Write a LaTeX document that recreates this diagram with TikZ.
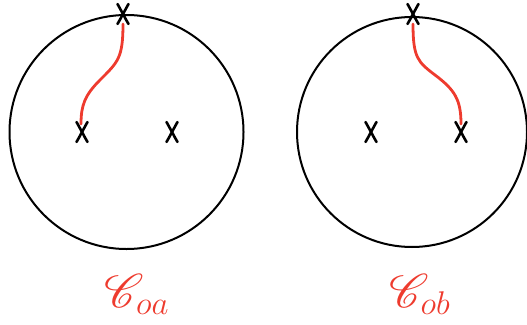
\documentclass[tikz,border=0pt]{standalone}
\usepackage{mathrsfs}
\usepackage{graphicx}
\usetikzlibrary{calc}
\definecolor{penred}{HTML}{EE3B2E}
\begin{document}
\begin{tikzpicture}[x=1pt,y=-1pt,
  ring/.style={draw=black,line width=2pt},
  strand/.style={draw=penred,line width=2.8pt,line cap=round},
  cross/.style={draw=black,line width=2.6pt,line cap=round},
  lab/.style={text=penred,inner sep=0pt,font=\fontsize{24}{28}\selectfont}]
\useasboundingbox (0,0) rectangle (527,324);
% left
\node[circle,minimum size=234pt,ring,inner sep=0pt] (ca) at (126.5,132) {};
\coordinate (ta) at (123,14);
\coordinate (la) at (82,132);
\coordinate (ra) at (172,132);
\draw[strand] (123,24) .. controls (123,58) and (118,62) .. (100,80) .. controls (85,95) and (81,105) .. (81,124);
% right
\node[circle,minimum size=230pt,ring,inner sep=0pt] (cb) at (412,132) {};
\coordinate (tb) at (413,14);
\coordinate (lb) at (371,132);
\coordinate (rb) at (461,132);
\draw[strand] (413,24) .. controls (413,58) and (418,62) .. (435,75) .. controls (455,90) and (461,100) .. (461,124);
% crosses
\foreach \p in {ta,la,ra,tb,lb,rb}{
  \draw[cross] ($(\p)+(-5.5,-10)$) .. controls ($(\p)+(-1,-2)$) and ($(\p)+(2,4)$) .. ($(\p)+(5.5,10)$);
  \draw[cross] ($(\p)+(5.5,-10)$) .. controls ($(\p)+(1,-2)$) and ($(\p)+(-2,4)$) .. ($(\p)+(-5.5,10)$);
}
\node[lab] (labA) at (137,294) {\scalebox{1.9}{$\mathscr{C}_{oa}$}};
\node[lab] (labB) at (420,294) {\scalebox{1.9}{$\mathscr{C}_{ob}$}};
\end{tikzpicture}
\end{document}
